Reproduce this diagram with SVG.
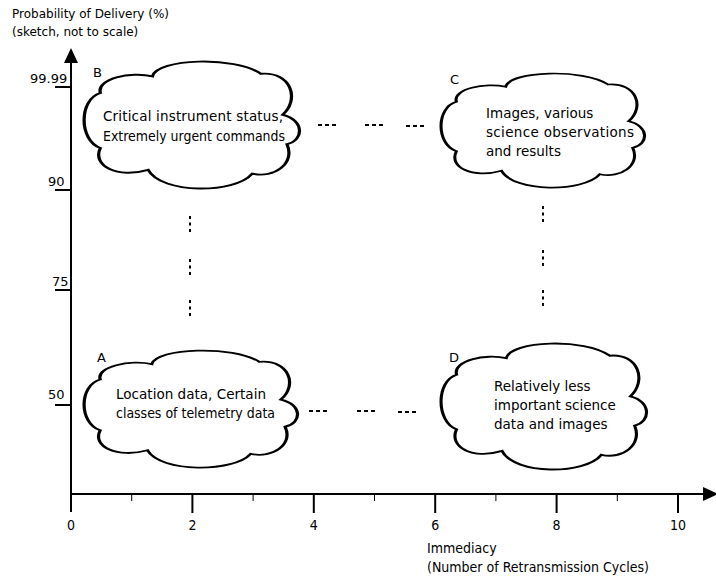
<svg xmlns="http://www.w3.org/2000/svg" xmlns:xlink="http://www.w3.org/1999/xlink" width="716" height="580" viewBox="0 0 716 580">
<style>
.bg{fill:#fff}
.cloud{fill:#fff;stroke:#000;stroke-width:1.5;vector-effect:non-scaling-stroke}
.t{font-family:"DejaVu Sans","Liberation Sans",sans-serif;fill:#000}
.ct{font-size:13.5px}
.lbl{font-size:13px}
.ax{font-size:12px}
.cond{font-family:"DejaVu Sans Condensed","DejaVu Sans","Liberation Sans Narrow",sans-serif;font-stretch:condensed;font-size:14px;fill:#000}
.axis{stroke:#000;stroke-width:2;fill:none}
.tick{stroke:#000;stroke-width:2;fill:none}
.mtick{stroke:#000;stroke-width:1;fill:none}
.dh{stroke:#000;stroke-width:2;stroke-dasharray:4 3;fill:none}
.dv{stroke:#000;stroke-width:2;stroke-dasharray:3 3.5;fill:none}
</style>
<defs>
<marker id="arr" viewBox="0 0 15 14" refX="0" refY="7" markerWidth="15" markerHeight="14" markerUnits="userSpaceOnUse" orient="auto">
<path d="M0,0 L15,7 L0,14 z" fill="#000"/>
</marker>
<path id="cloud" d="M8,25 C6,14 22,8 32,12 C34,-2 70,-4 82,10 C96,8 100,30 92,42 C102,46 102,62 94,65 C98,80 88,92 78,88 C70,104 36,104 30,85 C16,92 4,82 8,68 C-2,62 -2,30 8,25 Z"/>
</defs>
<rect class="bg" x="0" y="0" width="716" height="580"/>

<g id="axes">
<line class="axis" x1="71" y1="512" x2="71" y2="63" marker-end="url(#arr)"/>
<line class="axis" x1="71" y1="494" x2="703" y2="494" marker-end="url(#arr)"/>
<line class="tick" x1="55" y1="87" x2="71" y2="87"/>
<line class="tick" x1="55" y1="190" x2="71" y2="190"/>
<line class="tick" x1="55" y1="290" x2="71" y2="290"/>
<line class="tick" x1="55" y1="405" x2="71" y2="405"/>
<line class="tick" x1="192.4" y1="494" x2="192.4" y2="513"/>
<line class="tick" x1="313.8" y1="494" x2="313.8" y2="513"/>
<line class="tick" x1="435.2" y1="494" x2="435.2" y2="513"/>
<line class="tick" x1="556.6" y1="494" x2="556.6" y2="513"/>
<line class="tick" x1="678" y1="494" x2="678" y2="513"/>
<line class="mtick" x1="131.7" y1="494" x2="131.7" y2="501"/>
<line class="mtick" x1="253.1" y1="494" x2="253.1" y2="501"/>
<line class="mtick" x1="374.5" y1="494" x2="374.5" y2="501"/>
<line class="mtick" x1="495.9" y1="494" x2="495.9" y2="501"/>
<line class="mtick" x1="617.3" y1="494" x2="617.3" y2="501"/>
<text class="t ax" x="12" y="18">Probability of Delivery (%)</text>
<text class="t ax" x="12" y="36">(sketch, not to scale)</text>
<text class="t lbl" x="30" y="83">99.99</text>
<text class="t lbl" x="48" y="186">90</text>
<text class="t lbl" x="52" y="286">75</text>
<text class="t lbl" x="48" y="399">50</text>
<g text-anchor="middle">
<text class="cond" x="71" y="530">0</text>
<text class="cond" x="192.4" y="530">2</text>
<text class="cond" x="313.8" y="530">4</text>
<text class="cond" x="435.2" y="530">6</text>
<text class="cond" x="556.6" y="530">8</text>
<text class="cond" x="678" y="530">10</text>
</g>
<text class="cond" x="427" y="553">Immediacy</text>
<text class="cond" x="427" y="572">(Number of Retransmission Cycles)</text>
</g>

<g id="connectors">
<line class="dh" x1="318" y1="125" x2="336" y2="125"/>
<line class="dh" x1="365" y1="125" x2="383" y2="125"/>
<line class="dh" x1="406" y1="126" x2="424" y2="126"/>
<line class="dh" x1="309" y1="411" x2="327" y2="411"/>
<line class="dh" x1="357" y1="411" x2="375" y2="411"/>
<line class="dh" x1="398" y1="412" x2="416" y2="412"/>
<line class="dv" x1="190" y1="216" x2="190" y2="233"/>
<line class="dv" x1="190" y1="259" x2="190" y2="276"/>
<line class="dv" x1="190" y1="300" x2="190" y2="317"/>
<line class="dv" x1="543" y1="206" x2="543" y2="223"/>
<line class="dv" x1="543" y1="250" x2="543" y2="267"/>
<line class="dv" x1="543" y1="290" x2="543" y2="307"/>
</g>

<g id="node-B">
<use xlink:href="#cloud" href="#cloud" class="cloud" transform="translate(83,61) scale(2.17,1.28)"/>
<text class="t lbl" x="93" y="77">B</text>
<text class="t ct" x="103" y="121" textLength="180">Critical instrument status,</text>
<text class="t ct" x="103" y="141" textLength="182" lengthAdjust="spacingAndGlyphs">Extremely urgent commands</text>
</g>

<g id="node-C">
<use xlink:href="#cloud" href="#cloud" class="cloud" transform="translate(440,73) scale(2.05,1.15)"/>
<text class="t lbl" x="450" y="84">C</text>
<text class="t ct" x="486" y="118">Images, various</text>
<text class="t ct" x="486" y="137" textLength="148">science observations</text>
<text class="t ct" x="486" y="156">and results</text>
</g>

<g id="node-A">
<use xlink:href="#cloud" href="#cloud" class="cloud" transform="translate(83,350) scale(2.15,1.18)"/>
<text class="t lbl" x="97" y="362">A</text>
<text class="t ct" x="116" y="399" textLength="150" lengthAdjust="spacingAndGlyphs">Location data, Certain</text>
<text class="t ct" x="116" y="418" textLength="159" lengthAdjust="spacingAndGlyphs">classes of telemetry data</text>
</g>

<g id="node-D">
<use xlink:href="#cloud" href="#cloud" class="cloud" transform="translate(440,343) scale(2.07,1.27)"/>
<text class="t lbl" x="449" y="362">D</text>
<text class="t ct" x="494" y="391">Relatively less</text>
<text class="t ct" x="494" y="410">important science</text>
<text class="t ct" x="494" y="429">data and images</text>
</g>
</svg>
